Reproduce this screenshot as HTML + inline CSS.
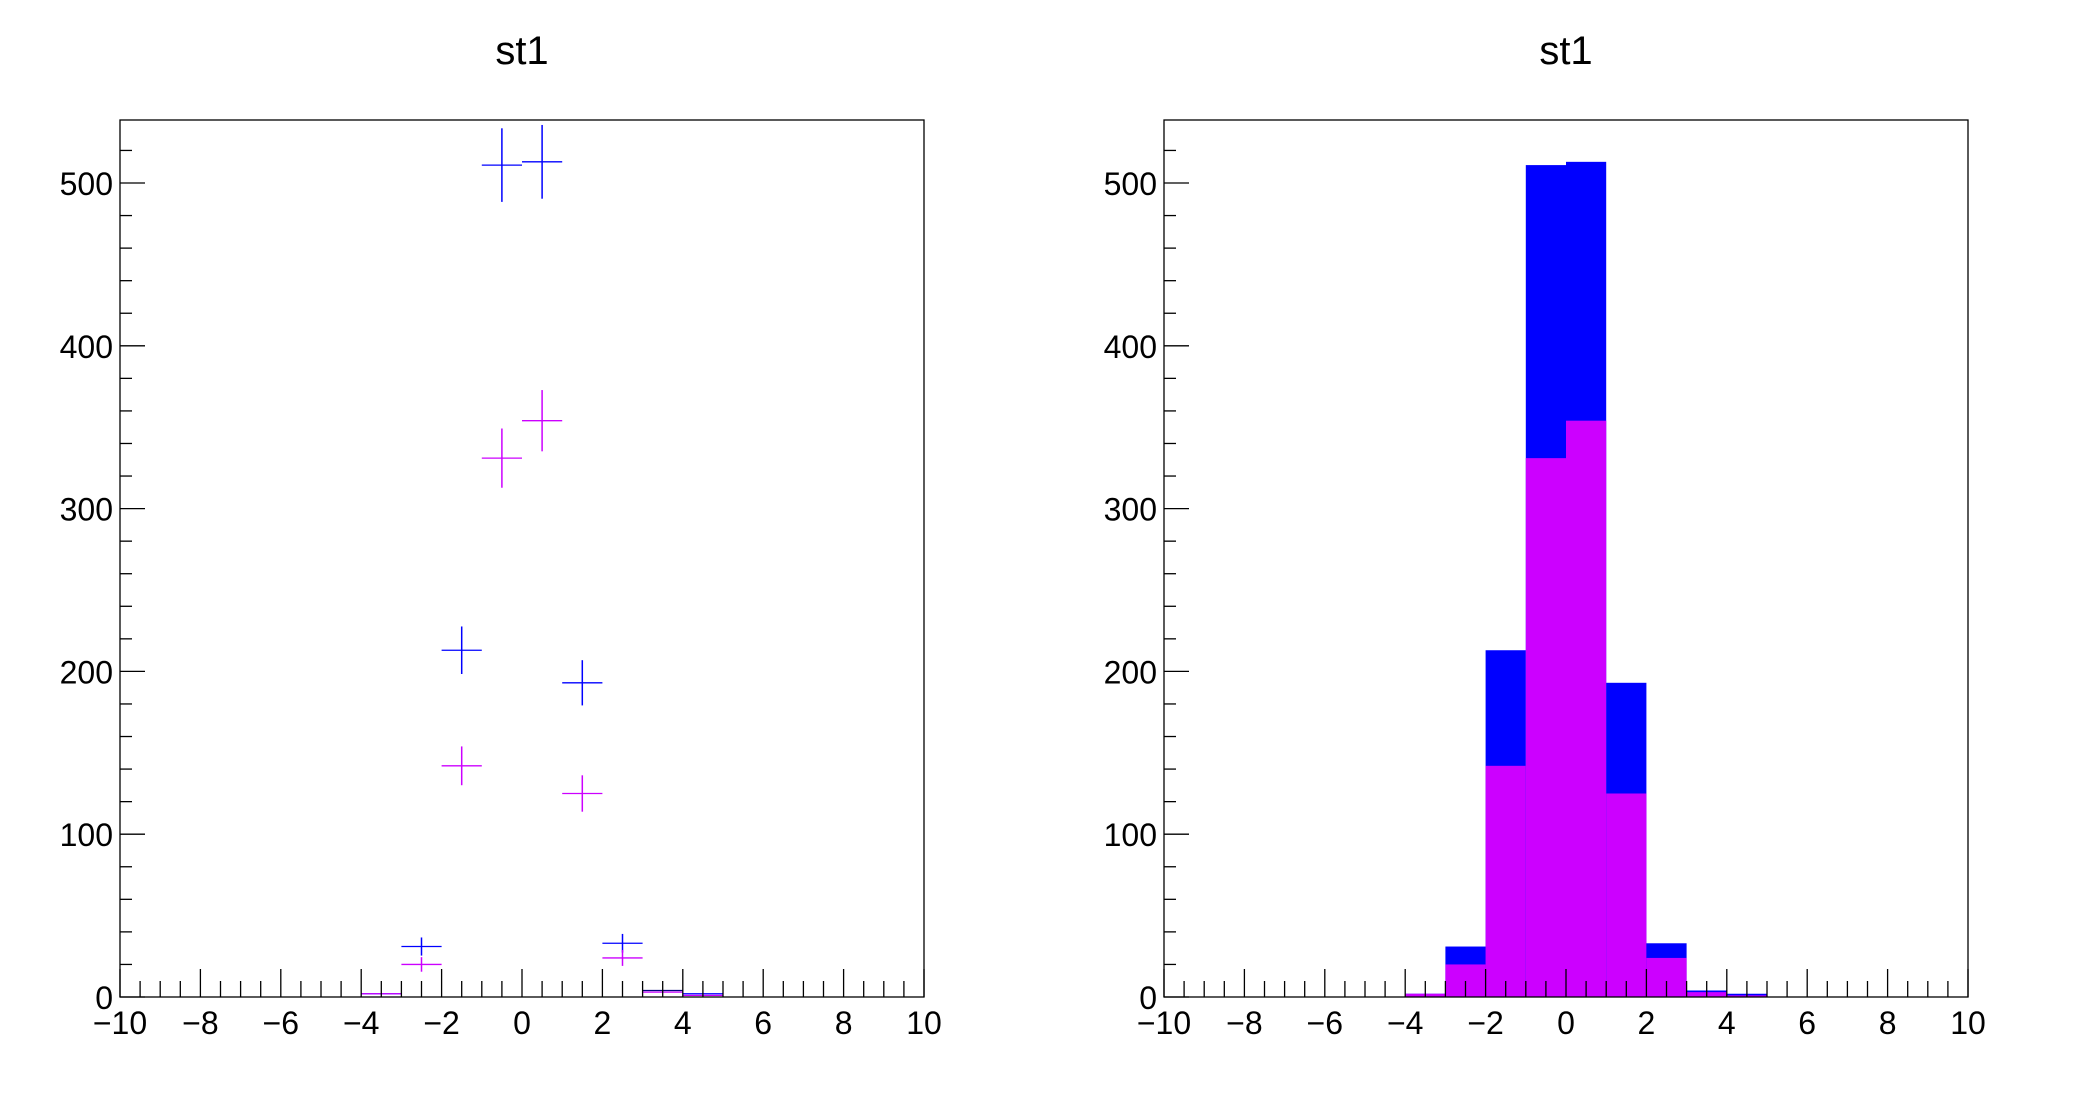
<!DOCTYPE html>
<html><head><meta charset="utf-8"><style>
html,body{margin:0;padding:0;background:#fff;}
svg{display:block;}
text{font-family:"Liberation Sans",Arial,sans-serif;fill:#000;}
</style></head><body>
<svg id="s" width="2088" height="1116" xmlns="http://www.w3.org/2000/svg"></svg>
<script>
var s=document.getElementById('s');var h='';
var tot={'-4':2,'-3':31,'-2':213,'-1':511,'0':513,'1':193,'2':33,'3':4,'4':2};
var mag={'-4':2,'-3':20,'-2':142,'-1':331,'0':354,'1':125,'2':24,'3':3,'4':1};
var Y0=997,YT=120,ppu=1.628;
function Y(v){return Y0-v*ppu;}
function panel(L,R,mode){
 var w=R-L,pu=w/20;function X(v){return L+(v+10)*pu;}
 var cx=(L+R)/2;
 h+='<text x="'+cx+'" y="64" font-size="40" text-anchor="middle">st1</text>';
 if(mode==1){
  for(var b=-4;b<=4;b++){var t=tot[b],m=mag[b];
   h+='<rect x="'+X(b)+'" y="'+Y(t)+'" width="'+pu+'" height="'+(t*ppu)+'" fill="#0000ff"/>';
   h+='<rect x="'+X(b)+'" y="'+Y(m)+'" width="'+pu+'" height="'+(m*ppu)+'" fill="#cc00ff"/>';}
 } else {
  var arr=[[tot,'#0000ff'],[mag,'#cc00ff']];
  arr.forEach(function(a){for(var b=-4;b<=4;b++){var v=a[0][b],e=Math.sqrt(v);
   var c=a[1]; if(b==3&&a[0]==tot)c='#000080';
   h+='<line x1="'+X(b)+'" x2="'+X(b+1)+'" y1="'+Y(v)+'" y2="'+Y(v)+'" stroke="'+c+'" stroke-width="1.3"/>';
   if(v>5)h+='<line x1="'+X(b+0.5)+'" x2="'+X(b+0.5)+'" y1="'+Y(v+e)+'" y2="'+Y(v-e)+'" stroke="'+c+'" stroke-width="1.5"/>';}});
 }
 h+='<rect x="'+L+'" y="'+YT+'" width="'+w+'" height="'+(Y0-YT)+'" fill="none" stroke="#000" stroke-width="1.3"/>';
 for(var v=0;v<=538;v+=20){var y=Y(v),len=(v%100==0)?25:12;
  h+='<line x1="'+L+'" x2="'+(L+len)+'" y1="'+y+'" y2="'+y+'" stroke="#000" stroke-width="1.3"/>';
  if(v%100==0)h+='<text x="'+(L-7)+'" y="'+(y+12)+'" font-size="32" text-anchor="end">'+v+'</text>';}
 for(var i=0;i<=40;i++){var xv=-10+i*0.5,x=X(xv),len=(i%4==0)?28:16;
  h+='<line x1="'+x+'" x2="'+x+'" y1="'+Y0+'" y2="'+(Y0-len)+'" stroke="#000" stroke-width="1.3"/>';
  if(i%4==0)h+='<text x="'+x+'" y="1034" font-size="32" text-anchor="middle">'+(xv<0?'\u2212'+(-xv):xv)+'</text>';}
}
panel(120,924,0);panel(1164,1968,1);
s.innerHTML=h;
</script>
</body></html>
